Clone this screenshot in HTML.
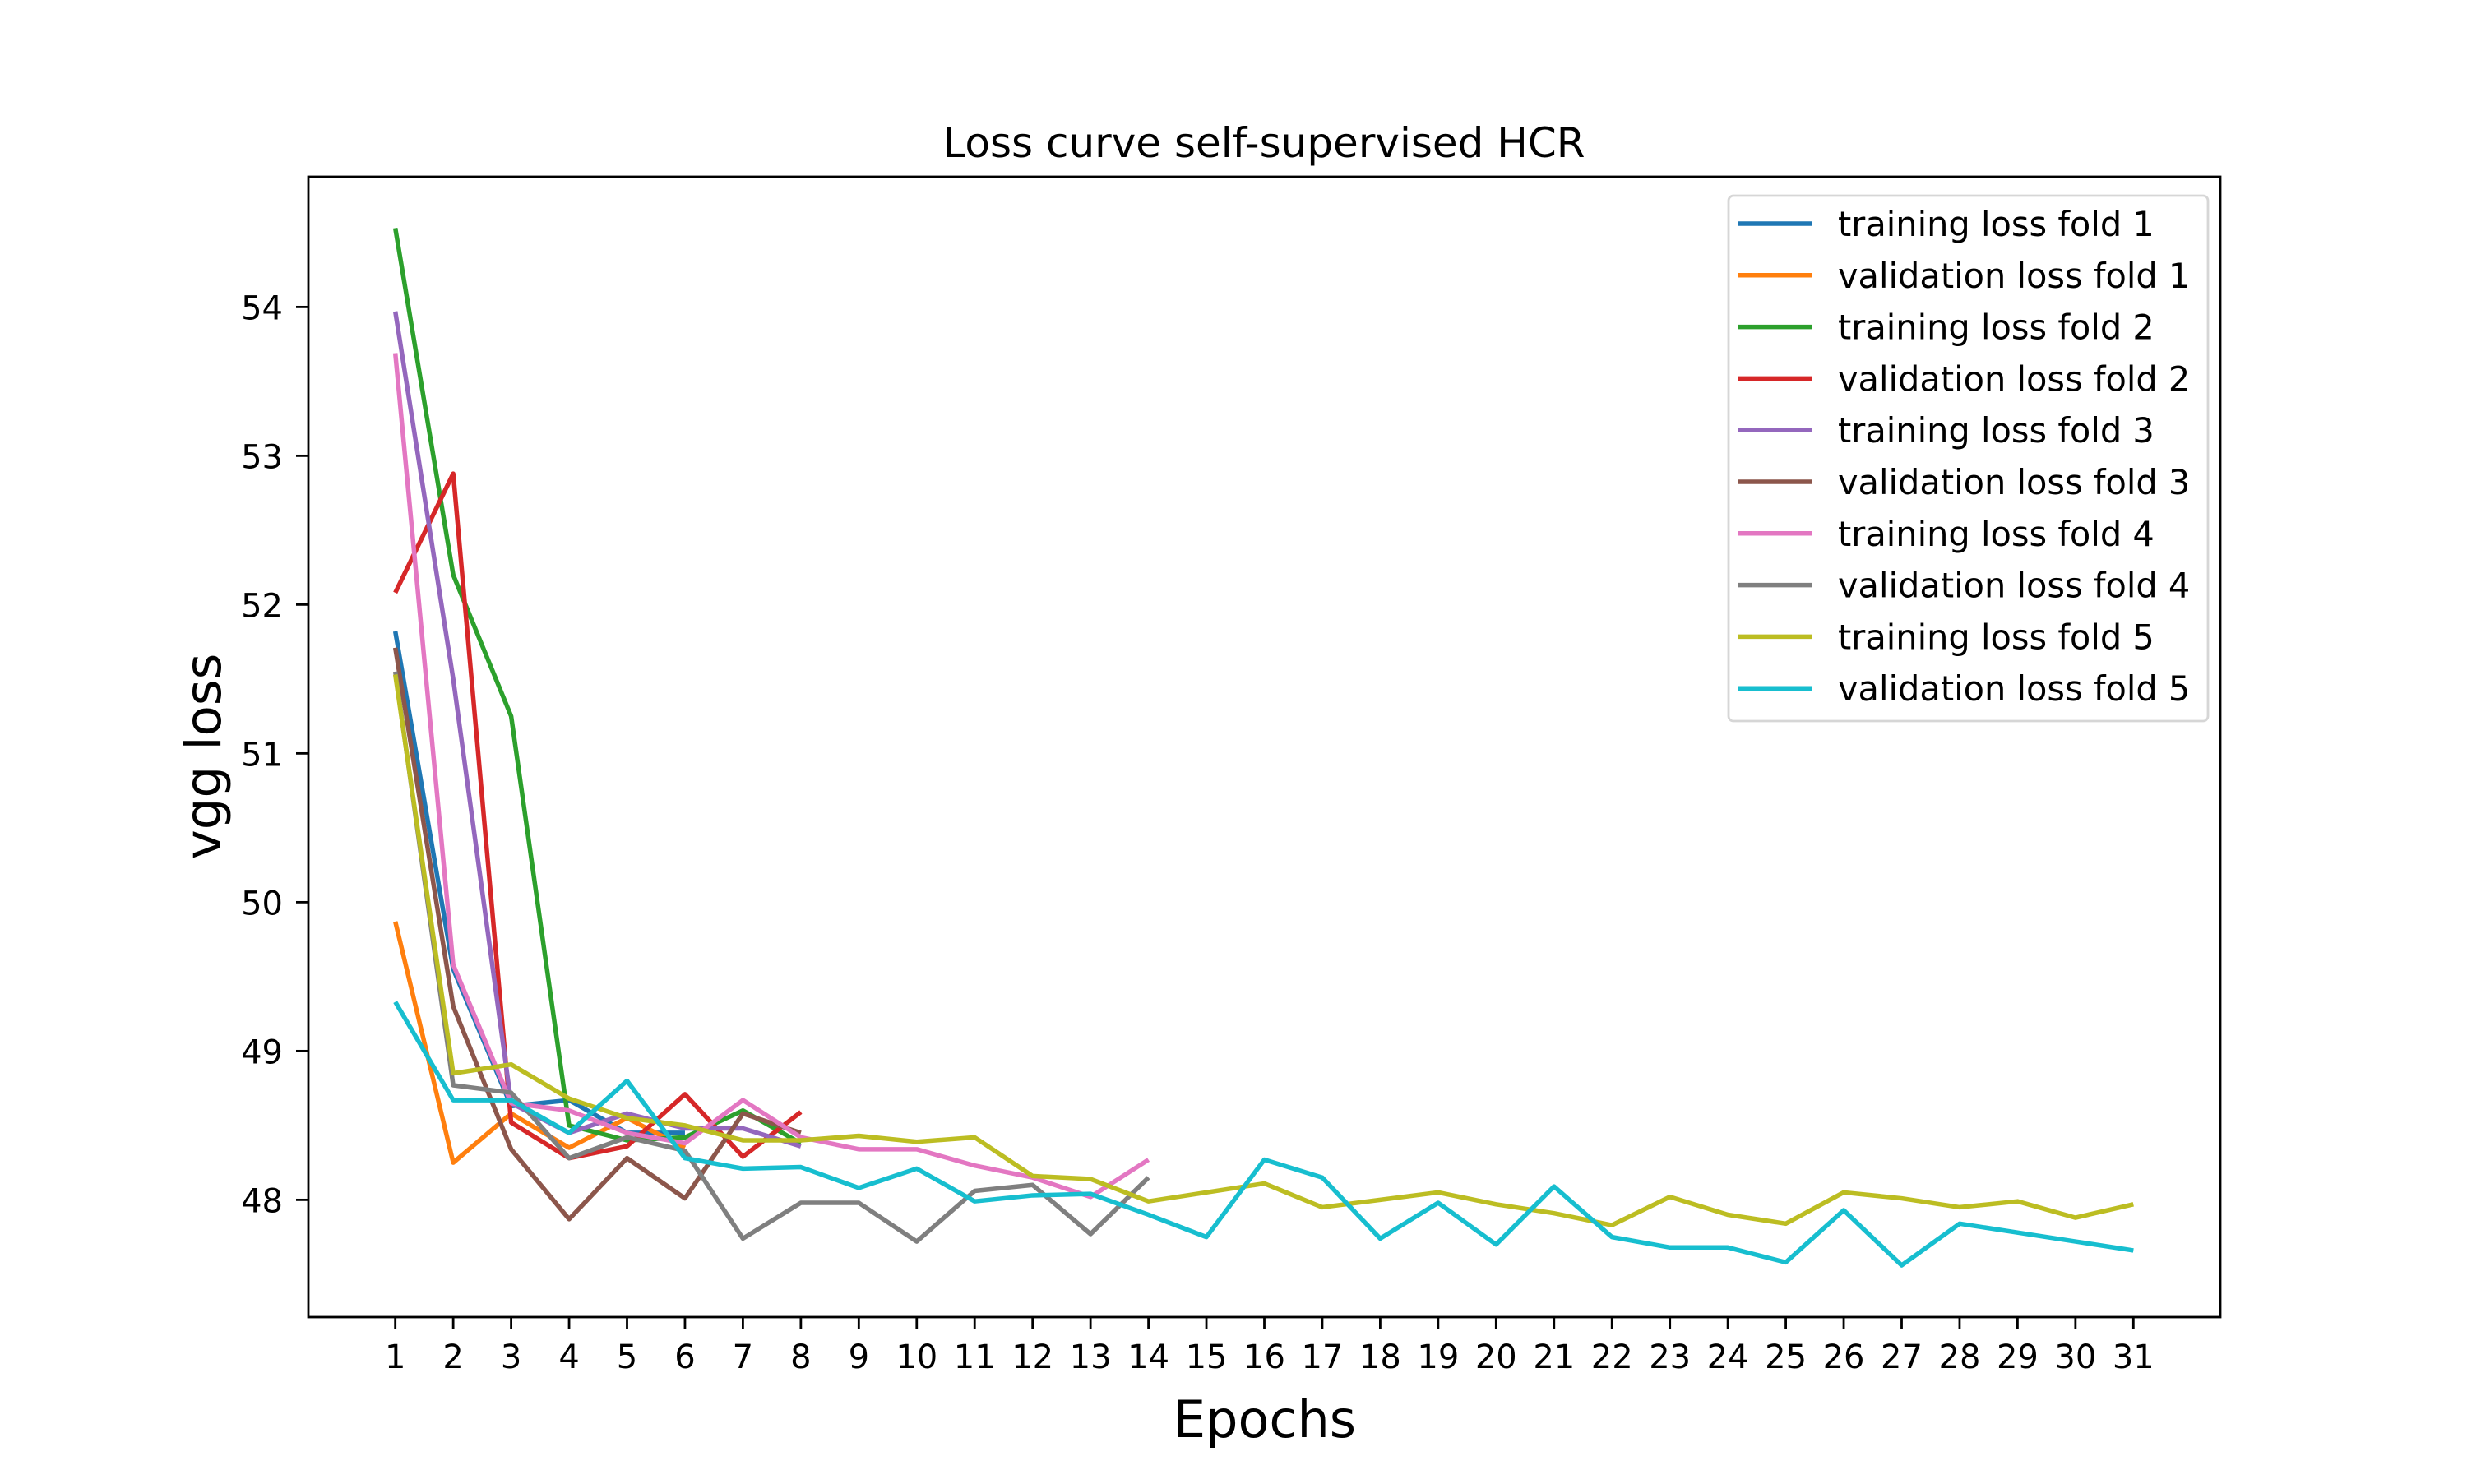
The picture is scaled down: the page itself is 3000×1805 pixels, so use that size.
<!DOCTYPE html>
<html><head><meta charset="utf-8"><style>
body{margin:0;background:#fff}
svg text{font-family:"DejaVu Sans","Liberation Sans",sans-serif}
</style></head><body>
<svg id="chart" width="3000" height="1800" xmlns="http://www.w3.org/2000/svg">
<rect width="3000" height="1800" fill="#fff"/>
<g id="plot"></g>
<rect x="375" y="215" width="2325" height="1387" fill="none" stroke="#000" stroke-width="2.8"/>
<g id="xt"></g><g id="yt"></g>
<text x="1537" y="191" font-size="50" text-anchor="middle">Loss curve self-supervised HCR</text>
<text x="1538" y="1748" font-size="62" text-anchor="middle">Epochs</text>
<text transform="translate(268,920) rotate(-90)" font-size="61" text-anchor="middle">vgg loss</text>
<g id="legend"></g>
</svg>
<script>
const names=["training loss fold 1","validation loss fold 1","training loss fold 2","validation loss fold 2","training loss fold 3","validation loss fold 3","training loss fold 4","validation loss fold 4","training loss fold 5","validation loss fold 5"];
const colors=["#1f77b4","#ff7f0e","#2ca02c","#d62728","#9467bd","#8c564b","#e377c2","#7f7f7f","#bcbd22","#17becf"];
const train1=[51.82,49.55,48.63,48.67,48.45,48.45];
const val1=[49.87,48.25,48.58,48.35,48.55,48.35];
const train2=[54.53,52.2,51.25,48.5,48.4,48.42,48.6,48.38];
const val2=[52.08,52.88,48.52,48.28,48.36,48.71,48.29,48.59];
const train3=[53.97,51.5,48.65,48.45,48.58,48.48,48.48,48.36];
const val3=[51.71,49.3,48.34,47.87,48.28,48.01,48.58,48.45];
const train4=[53.69,49.58,48.65,48.6,48.45,48.38,48.67,48.42,48.34,48.34,48.23,48.15,48.02,48.27];
const val4=[51.55,48.77,48.72,48.28,48.42,48.33,47.74,47.98,47.98,47.72,48.06,48.10,47.77,48.15];
const train5=[51.53,48.85,48.91,48.68,48.55,48.5,48.4,48.4,48.43,48.39,48.42,48.16,48.14,47.99,48.05,48.11,47.95,48.0,48.05,47.97,47.91,47.83,48.02,47.90,47.84,48.05,48.01,47.95,47.99,47.88,47.97];
const val5=[49.33,48.67,48.67,48.45,48.80,48.28,48.21,48.22,48.08,48.21,47.99,48.03,48.04,47.9,47.75,48.27,48.15,47.74,47.98,47.70,48.09,47.75,47.68,47.68,47.58,47.93,47.56,47.84,47.78,47.72,47.66];
const xTicks=[1,2,3,4,5,6,7,8,9,10,11,12,13,14,15,16,17,18,19,20,21,22,23,24,25,26,27,28,29,30,31];
const yTicks=[48,49,50,51,52,53,54];
const series=[train1,val1,train2,val2,train3,val3,train4,val4,train5,val5];
const NS="http://www.w3.org/2000/svg";
const x=v=>375+(v+0.5)*2325/33;
const y=v=>1602-(v-47.212)*1387/(54.875-47.212);
const plot=document.getElementById('plot');
series.forEach((s,i)=>{
 const p=document.createElementNS(NS,'polyline');
 p.setAttribute('points',s.map((v,j)=>x(j+1)+','+y(v)).join(' '));
 p.setAttribute('fill','none');p.setAttribute('stroke',colors[i]);p.setAttribute('stroke-width','5.5');p.setAttribute('stroke-linejoin','round');
 
 
 plot.appendChild(p);
});
const xt=document.getElementById('xt');
xTicks.forEach(t=>{
 const l=document.createElementNS(NS,'line');
 l.setAttribute('x1',x(t));l.setAttribute('x2',x(t));l.setAttribute('y1',1602);l.setAttribute('y2',1617);l.setAttribute('stroke','#000');l.setAttribute('stroke-width','2.8');
 
 
 xt.appendChild(l);
 const tx=document.createElementNS(NS,'text');
 tx.setAttribute('x',x(t));tx.setAttribute('y',1664);tx.setAttribute('font-size','40');tx.setAttribute('text-anchor','middle');tx.textContent=t;
 
 
 xt.appendChild(tx);
});
const yt=document.getElementById('yt');
yTicks.forEach(t=>{
 const l=document.createElementNS(NS,'line');
 l.setAttribute('x1',360);l.setAttribute('x2',375);l.setAttribute('y1',y(t));l.setAttribute('y2',y(t));l.setAttribute('stroke','#000');l.setAttribute('stroke-width','2.8');
 
 
 yt.appendChild(l);
 const tx=document.createElementNS(NS,'text');
 tx.setAttribute('x',344);tx.setAttribute('y',y(t)+15);tx.setAttribute('font-size','40');tx.setAttribute('text-anchor','end');tx.textContent=t;
 
 
 yt.appendChild(tx);
});
const lg=document.getElementById('legend');
const box=document.createElementNS(NS,'rect');
box.setAttribute('x',2102);box.setAttribute('y',238);box.setAttribute('width',583);box.setAttribute('height',639);box.setAttribute('rx',6);
box.setAttribute('fill','#fff');box.setAttribute('fill-opacity','0.8');box.setAttribute('stroke','#d6d6d6');box.setAttribute('stroke-width','2.8');


lg.appendChild(box);
names.forEach((n,i)=>{
 const yy=272+i*62.8;
 const l=document.createElementNS(NS,'line');
 l.setAttribute('x1',2113);l.setAttribute('x2',2204);l.setAttribute('y1',yy);l.setAttribute('y2',yy);l.setAttribute('stroke',colors[i]);l.setAttribute('stroke-width','5.5');
 
 
 lg.appendChild(l);
 const tx=document.createElementNS(NS,'text');
 tx.setAttribute('x',2235);tx.setAttribute('y',yy+15);tx.setAttribute('font-size','41.5');tx.textContent=n;
 
 
 lg.appendChild(tx);
});
</script>
</body></html>
